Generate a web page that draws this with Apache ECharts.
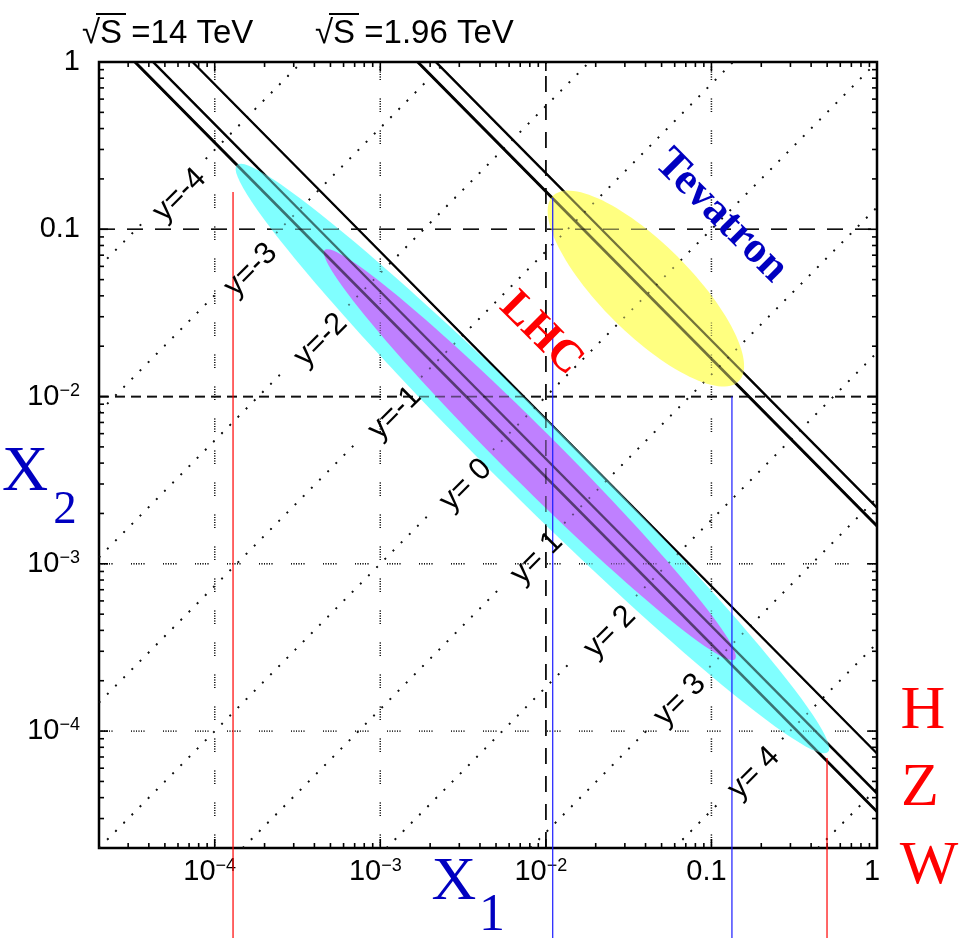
<!DOCTYPE html>
<html><head><meta charset="utf-8">
<script src="https://cdn.jsdelivr.net/npm/echarts/dist/echarts.min.js"></script>
<style>html,body{margin:0;padding:0;background:#fff}#c{width:959px;height:938px}</style>
</head><body><div id="c"></div>
<script>
// ---------------- data ----------------
const xMin = 2e-5, xMax = 1, yMin = 2e-5, yMax = 1;
const decadeValues = [1e-4, 1e-3, 1e-2, 0.1, 1];
const decadeLabelBase = ['10', '10', '10', '0.1', '1'];
const decadeLabelExp  = ['\u22124', '\u22123', '\u22122', '', ''];
const lhcSqrtS = 14000;            // GeV
const tevSqrtS = 1960;             // GeV
const lhcMasses = [80.4, 91.2, 120];   // W, Z, H
const tevMasses = [80.4, 91.2];        // W, Z
const rapidities = [-4, -3, -2, -1, 0, 1, 2, 3, 4, 5];
const rapidityLabels = ['y=-4', 'y=-3', 'y=-2', 'y=-1', 'y= 0', 'y= 1', 'y= 2', 'y= 3', 'y= 4'];
// ellipse tips [x1,x2]
const cyanTips   = [[1.359e-4, 0.2422], [0.5058, 7.49e-5]];
const purpleTips = [[4.62e-4, 0.0751], [0.1387, 2.69e-4]];
const yellowTips = [[0.01101, 0.158], [0.1466, 0.01238]];
const cyanHalfWidth = 0.229, purpleHalfWidth = 0.162, yellowHalfWidth = 0.27; // decades
// vertical marker lines
const markerX = [1.29e-4, 0.0110, 0.133, 0.499];
const markerTop = [0.167, 0.154, 0.01, 6.9e-5];
const markerBottom = 5.8e-6;
// grid lines
const gridXValues = [1e-4, 1e-3, 1e-2, 0.1];
const gridYValues = [0.1, 1e-2, 1e-3, 1e-4];

// ---------------- layout / style (not data) ----------------
const gridXKinds = ['dots', 'dots', 'dash', 'dots'];
const gridYKinds = ['dash', 'mdash', 'dots', 'dots'];
const markerColors = ['#ff0000', '#1a1aff', '#1a1aff', '#ff0000'];
const rapidityLabelPos = [[6.14e-5, 0.1602], [1.651e-4, 0.0571], [4.37e-4, 0.02177], [1.224e-3, 7.96e-3],
  [3.286e-3, 2.958e-3], [8.82e-3, 1.082e-3], [0.02436, 3.907e-4], [0.06452, 1.532e-4], [0.1806, 5.61e-5]];
const lhcLabelPos = [9.33e-3, 0.02366];
const tevLabelPos = [0.1141, 0.1200];
const DASH = {
  dots: [1, 1.5, 1, 1.5, 1, 1.5, 1, 1.5, 1, 1.5, 1, 18.5],
  dash: [16, 12],
  mdash: [10, 6]
};

const lg = Math.log10;
function seg(a, b, style) {
  return { type: 'line', shape: { x1: a[0], y1: a[1], x2: b[0], y2: b[1] }, style: style };
}

function drawLines(api, opacity) {
  const kids = [];
  gridXValues.forEach((v, i) => {
    const k = gridXKinds[i];
    kids.push(seg(api.coord([v, yMin]), api.coord([v, yMax]),
      { stroke: '#111', lineWidth: k === 'dots' ? 1.4 : 1.7, lineDash: DASH[k], opacity: opacity }));
  });
  gridYValues.forEach((v, i) => {
    const k = gridYKinds[i];
    kids.push(seg(api.coord([xMin, v]), api.coord([xMax, v]),
      { stroke: '#111', lineWidth: k === 'dots' ? 1.4 : 1.7, lineDash: DASH[k], opacity: opacity }));
  });
  // rapidity lines x2 = x1 * exp(-2y)
  rapidities.forEach((y, i) => {
    let s, e;
    if (y >= 0) { s = [xMin * Math.exp(2 * y), yMin]; e = [xMax, Math.exp(-2 * y)]; }
    else { s = [xMin, xMin * Math.exp(-2 * y)]; e = [Math.exp(2 * y), yMax]; }
    const p0 = api.coord(s), p1 = api.coord(e);
    const dx = p1[0] - p0[0], dy = p1[1] - p0[1], L = Math.hypot(dx, dy);
    const ux = dx / L, uy = dy / L;
    const st = { stroke: '#111', lineWidth: 1.8, lineDash: [1.8, 9.8], opacity: opacity };
    if (i < rapidityLabelPos.length) {
      const c = api.coord(rapidityLabelPos[i]);
      const t = (c[0] - p0[0]) * ux + (c[1] - p0[1]) * uy;
      const g = 44;
      if (t - g > 0) kids.push(seg(p0, [p0[0] + ux * (t - g), p0[1] + uy * (t - g)], st));
      if (t + g < L) kids.push(seg([p0[0] + ux * (t + g), p0[1] + uy * (t + g)], p1, st));
    } else {
      kids.push(seg(p0, p1, st));
    }
  });
  // constant mass lines x1*x2 = M^2/s
  const widths = [2.7, 2.3, 2.0];
  lhcMasses.forEach((m, i) => {
    const tau = (m / lhcSqrtS) * (m / lhcSqrtS);
    kids.push(seg(api.coord([tau, yMax]), api.coord([xMax, tau]), { stroke: '#000', lineWidth: widths[i], opacity: opacity }));
  });
  tevMasses.forEach((m, i) => {
    const tau = (m / tevSqrtS) * (m / tevSqrtS);
    kids.push(seg(api.coord([tau, yMax]), api.coord([xMax, tau]), { stroke: '#000', lineWidth: widths[i], opacity: opacity }));
  });
  return { type: 'group', children: kids };
}

function ellipse(api, tips, hw, fill) {
  const ax = lg(tips[0][0]), ay = lg(tips[0][1]), bx = lg(tips[1][0]), by = lg(tips[1][1]);
  const cx = (ax + bx) / 2, cy = (ay + by) / 2;
  const dx = (bx - ax) / 2, dy = (by - ay) / 2, a = Math.hypot(dx, dy);
  const ux = dx / a, uy = dy / a, vx = -uy, vy = ux;
  const pts = [];
  for (let i = 0; i < 120; i++) {
    const th = 2 * Math.PI * i / 120;
    const lx = cx + a * Math.cos(th) * ux + hw * Math.sin(th) * vx;
    const ly = cy + a * Math.cos(th) * uy + hw * Math.sin(th) * vy;
    pts.push(api.coord([Math.pow(10, lx), Math.pow(10, ly)]));
  }
  return { type: 'polygon', shape: { points: pts }, style: { fill: fill } };
}

function tickValues() {
  const out = [];
  for (let e = -5; e <= 0; e++) for (let k = 1; k <= 9; k++) {
    const v = k * Math.pow(10, e);
    if (v > xMin * 1.001 && v < xMax * 0.999) out.push([v, k === 1]);
  }
  return out;
}

function drawTicks(api) {
  const kids = [];
  const bl = api.coord([xMin, yMin]), tr = api.coord([xMax, yMax]);
  const st = { stroke: '#000', lineWidth: 1.6 };
  tickValues().forEach(([v, major]) => {
    const len = major ? 9 : 5;
    const px = api.coord([v, yMin])[0];
    kids.push(seg([px, bl[1]], [px, bl[1] - len], st));
    kids.push(seg([px, tr[1]], [px, tr[1] + len], st));
    const py = api.coord([xMin, v])[1];
    kids.push(seg([bl[0], py], [bl[0] + len, py], st));
    kids.push(seg([tr[0], py], [tr[0] - len, py], st));
  });
  return { type: 'group', children: kids };
}

function labelFormatter(v) {
  const e = Math.round(lg(v));
  if (Math.abs(lg(v) - e) > 1e-6) return '';
  const i = decadeValues.findIndex(d => Math.abs(lg(d) - e) < 1e-6);
  if (i < 0) return '';
  return decadeLabelExp[i] ? '{b|' + decadeLabelBase[i] + '}{s|' + decadeLabelExp[i] + '}' : '{b|' + decadeLabelBase[i] + '}';
}
const labelRich = {
  b: { fontSize: 29, fontFamily: 'Liberation Sans', color: '#000', lineHeight: 30 },
  s: { fontSize: 18, fontFamily: 'Liberation Sans', color: '#000', lineHeight: 18, verticalAlign: 'top' }
};

const chart = echarts.init(document.getElementById('c'), null, { renderer: 'canvas' });
const single = [[xMin, yMin]];
const option = {
  animation: false,
  backgroundColor: '#fff',
  grid: { left: 99, top: 62, width: 778, height: 786, show: true, borderColor: '#000', borderWidth: 2.5,
          backgroundColor: 'transparent', outerBoundsMode: 'none', containLabel: false },
  xAxis: { type: 'log', logBase: 10, min: xMin, max: xMax,
    axisLine: { show: false }, axisTick: { show: false }, splitLine: { show: false },
    axisLabel: { margin: 9, formatter: labelFormatter, rich: labelRich, padding: [0, 10, 0, 0], showMinLabel: false } },
  yAxis: { type: 'log', logBase: 10, min: yMin, max: yMax,
    axisLine: { show: false }, axisTick: { show: false }, splitLine: { show: false },
    axisLabel: { margin: 19, formatter: labelFormatter, rich: labelRich, showMinLabel: false } },
  series: [
    { type: 'custom', z: 1, data: single, clip: false, silent: true, renderItem: (p, api) => drawLines(api, 1) },
    { type: 'custom', z: 2, data: single, clip: false, silent: true, renderItem: (p, api) => ({ type: 'group', children: [
        ellipse(api, cyanTips, cyanHalfWidth, '#80ffff'),
        ellipse(api, purpleTips, purpleHalfWidth, '#bf80ff'),
        ellipse(api, yellowTips, yellowHalfWidth, '#ffff80')] }) },
    { type: 'custom', z: 3, data: single, clip: false, silent: true, renderItem: (p, api) => drawLines(api, 0.55) },
    { type: 'custom', z: 4, data: single, clip: false, silent: true, renderItem: (p, api) => drawTicks(api) },
    { type: 'custom', z: 5, data: single, clip: false, silent: true, renderItem: (p, api) => ({ type: 'group', children:
        markerX.map((x, i) => seg(api.coord([x, markerTop[i]]), api.coord([x, markerBottom]), { stroke: markerColors[i], lineWidth: 1.2 })) }) },
    { type: 'custom', z: 6, data: single, clip: false, silent: true, renderItem: (p, api) => {
        const kids = rapidityLabels.map((t, i) => {
          const c = api.coord(rapidityLabelPos[i]);
          return { type: 'text', x: c[0], y: c[1], rotation: Math.PI / 4,
            style: { text: t, fill: '#000', font: '31px "Liberation Sans"', align: 'center', verticalAlign: 'middle' } };
        });
        const l = api.coord(lhcLabelPos), tv = api.coord(tevLabelPos);
        kids.push({ type: 'text', x: l[0], y: l[1], rotation: -Math.PI / 4,
          style: { text: 'LHC', fill: '#ff0000', font: 'bold 45px "Liberation Serif"', align: 'center', verticalAlign: 'middle' } });
        kids.push({ type: 'text', x: tv[0], y: tv[1], rotation: -Math.PI / 4,
          style: { text: 'Tevatron', fill: '#0000c0', font: 'bold 44px "Liberation Serif"', align: 'center', verticalAlign: 'middle' } });
        return { type: 'group', children: kids };
      } }
  ],
  graphic: [
    { type: 'text', x: 82, y: 34, style: { text: '\u221aS =14 TeV', fill: '#000', font: '33px "Liberation Sans"', verticalAlign: 'middle' } },
    { type: 'line', shape: { x1: 96, y1: 14, x2: 126, y2: 14 }, style: { stroke: '#000', lineWidth: 2 } },
    { type: 'text', x: 315, y: 34, style: { text: '\u221aS =1.96 TeV', fill: '#000', font: '33px "Liberation Sans"', verticalAlign: 'middle' } },
    { type: 'line', shape: { x1: 329, y1: 14, x2: 359, y2: 14 }, style: { stroke: '#000', lineWidth: 2 } },
    { type: 'text', x: 25, y: 473, style: { text: 'X', fill: '#0000c0', font: '64px "Liberation Serif"', align: 'center', verticalAlign: 'middle' } },
    { type: 'text', x: 65, y: 511, style: { text: '2', fill: '#0000c0', font: '47px "Liberation Serif"', align: 'center', verticalAlign: 'middle' } },
    { type: 'text', x: 454, y: 883, style: { text: 'X', fill: '#0000c0', font: '62px "Liberation Serif"', align: 'center', verticalAlign: 'middle' } },
    { type: 'text', x: 492, y: 916, style: { text: '1', fill: '#0000c0', font: '52px "Liberation Serif"', align: 'center', verticalAlign: 'middle' } },
    { type: 'text', x: 923, y: 712, style: { text: 'H', fill: '#ff0000', font: '62px "Liberation Serif"', align: 'center', verticalAlign: 'middle' } },
    { type: 'text', x: 920, y: 789, style: { text: 'Z', fill: '#ff0000', font: '62px "Liberation Serif"', align: 'center', verticalAlign: 'middle' } },
    { type: 'text', x: 929, y: 867, style: { text: 'W', fill: '#ff0000', font: '62px "Liberation Serif"', align: 'center', verticalAlign: 'middle' } }
  ]
};
chart.setOption(option);
</script></body></html>
